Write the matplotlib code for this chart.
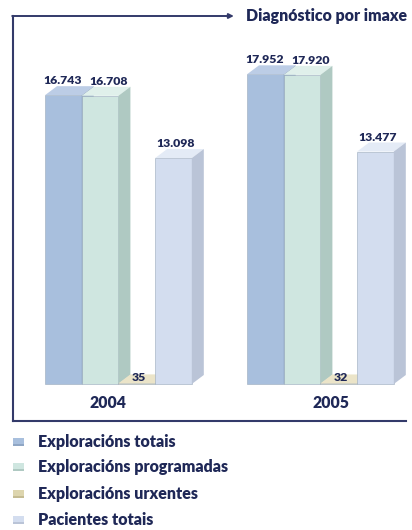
import matplotlib.pyplot as plt
from matplotlib.patches import Polygon, Rectangle

plt.rcParams['font.family'] = ['Lato', 'DejaVu Sans']

years = ['2004', '2005']
series = ['Exploracións totais', 'Exploracións programadas',
          'Exploracións urxentes', 'Pacientes totais']
values = {
    '2004': [16743, 16708, 35, 13098],
    '2005': [17952, 17920, 32, 13477],
}
value_labels = {
    '2004': ['16.743', '16.708', '35', '13.098'],
    '2005': ['17.952', '17.920', '32', '13.477'],
}
title = 'Diagnóstico por imaxe'

front = ['#a8bfdd', '#cfe6e0', '#ddd5ae', '#d3ddef']
top = ['#bccde6', '#e0f0eb', '#ebe4c8', '#e4ebf6']
side = ['#8fa6c4', '#afc9c2', '#c4bb92', '#bac4d7']
ink = '#1f2857'
frame = '#333a6a'
weight = 'heavy'

fig = plt.figure(figsize=(4.12, 5.30), dpi=100)
ax = fig.add_axes([13 / 412, 109 / 530, 393 / 412, 405 / 530])

# one bar = 36.7 px, 57.97 values per px vertically
ax.set_xlim(0, 393 / 36.7)
ax.set_ylim(-37 * 57.97, 368 * 57.97)
dx = 12 / 36.7
dy = 9 * 57.97
group_start = [0.872, 6.376]
year_x = [2.59, 8.66]
# horizontal nudge of each value label, in bar widths
label_shift = [-0.02, 0.24, 0.05, 0.05]

for g, yr in enumerate(years):
    for i, v in enumerate(values[yr]):
        x0 = group_start[g] + i
        z = 2 + i * 3
        ax.bar(x0, v, width=1, align='edge', color=front[i],
               edgecolor='#9aaabb', linewidth=0.4, zorder=z)
        ax.add_patch(Polygon([(x0, v), (x0 + dx, v + dy), (x0 + 1 + dx, v + dy),
                              (x0 + 1, v)], closed=True, facecolor=top[i],
                             edgecolor='none', zorder=z + 1))
        ax.add_patch(Polygon([(x0 + 1, 0), (x0 + 1 + dx, dy), (x0 + 1 + dx, v + dy),
                              (x0 + 1, v)], closed=True, facecolor=side[i],
                             edgecolor='none', zorder=z + 1))
        ly = v + dy if v > 1000 else v
        ax.text(x0 + 0.5 + label_shift[i], ly, value_labels[yr][i],
                ha='center', va='bottom', fontsize=8.8, fontweight=weight,
                color=ink, zorder=20)
    ax.text(year_x[g], -19 * 57.97, yr, ha='center', va='center',
            fontsize=11.3, fontweight=weight, color=ink)

for s in ['top', 'right']:
    ax.spines[s].set_visible(False)
for s in ['left', 'bottom']:
    ax.spines[s].set_color(frame)
    ax.spines[s].set_linewidth(1.5)
ax.set_xticks([])
ax.set_yticks([])

ax.annotate('', xy=(0.562, 1), xytext=(-0.002, 1), xycoords='axes fraction',
            arrowprops=dict(arrowstyle='-|>', color=frame, lw=1.4,
                            mutation_scale=7, shrinkA=0, shrinkB=0))
ax.text(0.593, 1, title, transform=ax.transAxes, ha='left', va='center',
        fontsize=11.4, fontweight=weight, color=ink)

# legend rows
row_y = [442, 467, 494, 520]
for i, name in enumerate(series):
    yc = 530 - row_y[i]
    fig.add_artist(Rectangle((13 / 412, (yc - 4) / 530), 11 / 412, 8 / 530,
                             transform=fig.transFigure, facecolor=front[i],
                             edgecolor='none'))
    fig.add_artist(Rectangle((13 / 412, (yc - 4) / 530), 11 / 412, 2 / 530,
                             transform=fig.transFigure, facecolor=side[i],
                             edgecolor='none'))
    fig.text(38 / 412, yc / 530, name, ha='left', va='center',
             fontsize=11.5, fontweight=weight, color=ink)

fig.savefig('out.png', dpi=100)
